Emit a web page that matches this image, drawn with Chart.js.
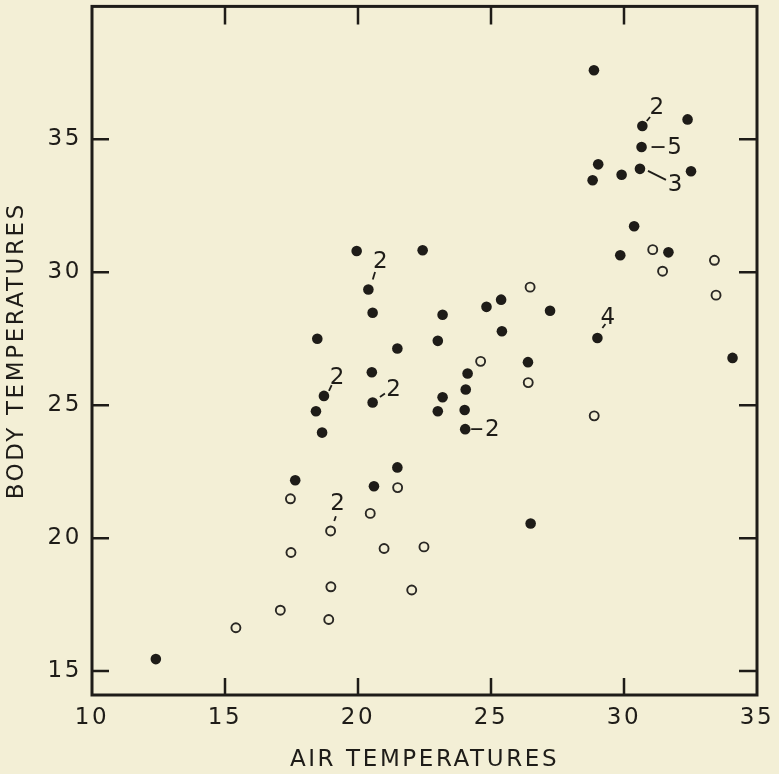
<!DOCTYPE html>
<html>
<head>
<meta charset="utf-8">
<script src="https://cdn.jsdelivr.net/npm/chart.js@4.4.1/dist/chart.umd.min.js"></script>
<style>
  html, body { margin: 0; padding: 0; background: #f3efd6; }
  #wrap { width: 779px; height: 774px; }
</style>
</head>
<body>
<div id="wrap"><canvas id="c" width="779" height="774"></canvas></div>
<script>
// ---- data ----
const xTickValues = [10, 15, 20, 25, 30, 35];
const yTickValues = [15, 20, 25, 30, 35];

const filledX = [12.4, 17.64, 18.42, 18.65, 18.47, 18.72, 19.95, 20.39, 20.55, 20.52, 20.55, 20.6, 21.48, 21.48,
  22.43, 23.0, 23.18, 23.18, 23.0, 24.12, 24.05, 24.01, 24.03, 24.83, 25.38, 25.41, 26.39, 26.49, 27.22,
  29.0, 28.87, 28.82, 29.03, 29.91, 29.86, 30.38, 30.6, 30.66, 30.69, 31.67, 32.39, 32.52, 34.08];
const filledY = [15.45, 22.18, 24.77, 23.97, 27.5, 25.35, 30.8, 29.35, 28.48, 26.24, 25.1, 21.95, 27.13, 22.66,
  30.83, 27.42, 28.4, 25.3, 24.77, 26.19, 25.59, 24.82, 24.1, 28.7, 28.97, 27.78, 26.62, 20.55, 28.55,
  27.53, 37.6, 33.46, 34.06, 33.67, 30.64, 31.73, 33.89, 34.71, 35.5, 30.75, 35.75, 33.8, 26.78];

const openX = [15.41, 17.08, 17.46, 17.48, 18.9, 18.97, 18.98, 20.46, 20.98, 21.49, 22.02, 22.48,
  24.61, 26.4, 26.47, 28.88, 31.08, 31.45, 33.4, 33.46];
const openY = [16.63, 17.29, 21.48, 19.46, 16.94, 20.27, 18.17, 20.93, 19.61, 21.9, 18.05, 19.67,
  26.65, 25.85, 29.44, 24.6, 30.85, 30.04, 30.45, 29.14];

// counts of coincident observations, attached to points
const noteLabels = ['2', '2', '2', '2', '2', '2', '5', '3', '4'];
const noteX = [20.39, 18.72, 20.55, 18.97, 24.03, 30.69, 30.66, 30.6, 29.0];
const noteY = [29.35, 25.35, 25.1, 20.27, 24.1, 35.5, 34.71, 33.89, 27.53];

// ---- styles (pixel offsets of note text and leader lines from their point) ----
const noteStyle = [
  { tx: 12, ty: -29, l: [4.4, -10, 6.7, -17.6] },
  { tx: 13, ty: -19, l: [5, -5, 7.7, -10.7] },
  { tx: 21, ty: -14, l: [7.3, -5.6, 12.3, -9] },
  { tx: 7, ty: -28, l: [3.6, -10, 5.3, -14.7] },
  { tx: 27, ty: 0, l: [6, 0, 17, 0] },
  { tx: 14.5, ty: -19, l: [4.4, -5, 7.7, -9] },
  { tx: 33, ty: 0, l: [10, 0, 23, 0] },
  { tx: 35, ty: 15, l: [8, 2, 26, 11] },
  { tx: 10.5, ty: -21, l: [5, -10, 8, -14] }
];

const INK = '#1e1c18';
const FONT = 'DejaVu Sans';
const SPACING = '2.6px';

const toPts = (xs, ys) => xs.map((v, i) => ({ x: v, y: ys[i] }));

const spacingPlugin = {
  id: 'spacing',
  beforeDraw(chart) { chart.ctx.letterSpacing = SPACING; }
};

const framePlugin = {
  id: 'frame',
  afterDraw(chart) {
    const { ctx, chartArea: a, scales: { x, y } } = chart;
    ctx.save();
    ctx.strokeStyle = INK;
    ctx.lineWidth = 3;
    ctx.strokeRect(a.left, a.top, a.right - a.left, a.bottom - a.top);
    ctx.lineWidth = 2.5;
    ctx.beginPath();
    xTickValues.filter(v => v > x.min && v < x.max).forEach(v => {
      const px = x.getPixelForValue(v);
      ctx.moveTo(px, a.bottom); ctx.lineTo(px, a.bottom - 17);
      ctx.moveTo(px, a.top); ctx.lineTo(px, a.top + 18);
    });
    yTickValues.forEach(v => {
      const py = y.getPixelForValue(v);
      ctx.moveTo(a.left, py); ctx.lineTo(a.left + 17, py);
      ctx.moveTo(a.right, py); ctx.lineTo(a.right - 18, py);
    });
    ctx.stroke();
    ctx.restore();
  }
};

const notePlugin = {
  id: 'notes',
  afterDatasetsDraw(chart) {
    const { ctx, scales: { x, y } } = chart;
    ctx.save();
    ctx.fillStyle = INK;
    ctx.strokeStyle = INK;
    ctx.lineWidth = 1.8;
    ctx.font = '23px "' + FONT + '"';
    ctx.letterSpacing = '0px';
    ctx.textAlign = 'center';
    ctx.textBaseline = 'middle';
    noteLabels.forEach((t, i) => {
      const px = x.getPixelForValue(noteX[i]);
      const py = y.getPixelForValue(noteY[i]);
      const s = noteStyle[i];
      ctx.beginPath();
      ctx.moveTo(px + s.l[0], py + s.l[1]);
      ctx.lineTo(px + s.l[2], py + s.l[3]);
      ctx.stroke();
      ctx.fillText(t, px + s.tx, py + s.ty + 1);
    });
    ctx.restore();
  }
};

new Chart(document.getElementById('c'), {
  type: 'scatter',
  data: {
    datasets: [
      {
        label: 'filled',
        data: toPts(filledX, filledY),
        pointRadius: 5.3,
        pointBackgroundColor: INK,
        pointBorderWidth: 0,
        pointBorderColor: INK
      },
      {
        label: 'open',
        data: toPts(openX, openY),
        pointRadius: 4.5,
        pointBackgroundColor: 'rgba(0,0,0,0)',
        pointBorderColor: '#2a2824',
        pointBorderWidth: 1.9
      }
    ]
  },
  options: {
    responsive: false,
    animation: false,
    devicePixelRatio: 1,
    layout: { padding: { left: 0, top: 5, right: 22, bottom: 0 } },
    plugins: { legend: { display: false }, tooltip: { enabled: false } },
    scales: {
      x: {
        type: 'linear',
        min: 10, max: 35,
        afterBuildTicks: s => { s.ticks = xTickValues.map(v => ({ value: v })); },
        afterFit: s => { s.height = 79; s.paddingLeft = 0; s.paddingRight = 0; },
        grid: { display: false, drawTicks: false },
        border: { display: false },
        ticks: { color: INK, font: { family: FONT, size: 23 }, padding: 9, maxRotation: 0, autoSkip: false },
        title: { display: true, text: 'AIR TEMPERATURES', color: INK,
                 font: { family: FONT, size: 23, lineHeight: 1.2 }, padding: { top: 0, bottom: 0 } }
      },
      y: {
        type: 'linear',
        min: 14.1, max: 40,
        afterBuildTicks: s => { s.ticks = yTickValues.map(v => ({ value: v })); },
        afterFit: s => { s.width = 92; s.paddingTop = 0; s.paddingBottom = 0; },
        grid: { display: false, drawTicks: false },
        border: { display: false },
        ticks: { color: INK, font: { family: FONT, size: 23 }, padding: 10, autoSkip: false },
        title: { display: true, text: 'BODY TEMPERATURES', color: INK,
                 font: { family: FONT, size: 23, lineHeight: 1.2 }, padding: { top: 3, bottom: 0 } }
      }
    }
  },
  plugins: [spacingPlugin, framePlugin, notePlugin]
});
</script>
</body>
</html>
